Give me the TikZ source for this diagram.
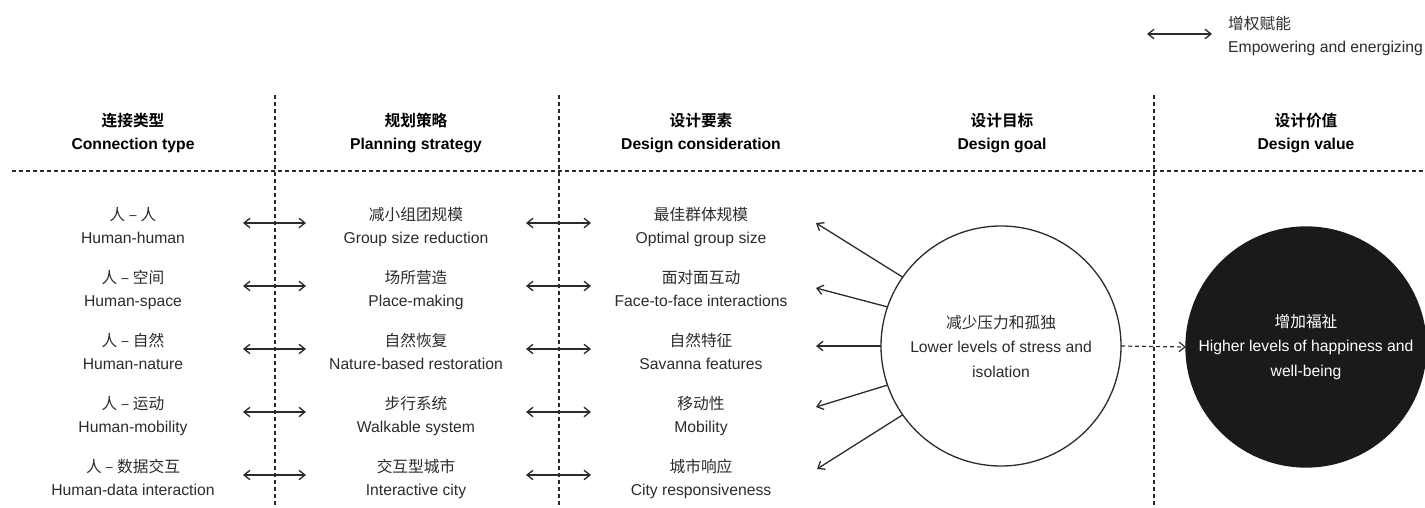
\documentclass[tikz,border=0pt]{standalone}
\usepackage{fontspec}
\setmainfont{Liberation Sans}
\newfontfamily\cjk{Noto Sans CJK SC}[BoldFont={Noto Sans CJK SC Bold}]
\usetikzlibrary{arrows.meta}

\definecolor{ink}{HTML}{2B2B2B}
\definecolor{disc}{HTML}{1A1A1A}

% two stacked lines: Chinese on top, English below
\newcommand\pairtext[2]{\strut{\cjk #1}\\\strut #2}

\tikzset{
  txt/.style={font=\fontsize{15.7}{23}\selectfont},
  cell/.style={txt, minimum width=220pt, inner xsep=0pt, inner ysep=0pt,
               outer sep=0pt, align=center, text=ink},
  head/.style={cell, font=\fontsize{15.7}{23}\selectfont\bfseries, text=black},
  barb/.style={Straight Barb[length=6pt,width=9.5pt]},
  tip/.style={-{Straight Barb[length=6pt,width=9.5pt]}},
  biarrow/.style={{Straight Barb[length=6pt,width=9.5pt]}-{Straight Barb[length=6pt,width=9.5pt]},
                  line width=1.3pt, draw=ink},
  arr/.style={tip, line width=1.3pt, draw=ink},
  dasharrow/.style={tip, line width=1.2pt, draw=ink, dash pattern=on 4pt off 3pt},
  gridline/.style={line width=1.1pt, draw=ink, dash pattern=on 4pt off 3pt},
  goal/.style={circle, draw=ink, line width=1.3pt, minimum size=240pt, inner sep=0pt,
               outer sep=0pt, align=center, text=ink, font=\fontsize{15.7}{24.5}\selectfont},
  value/.style={goal, fill=disc, draw=disc, text=white}
}

\begin{document}
\begin{tikzpicture}[x=1pt,y=-1pt]
\useasboundingbox (0,0) rectangle (1425,508);

% column separators and header rule
\coordinate (v1t) at (275,95);  \coordinate (v1b) at (275,508);
\coordinate (v2t) at (559,95);  \coordinate (v2b) at (559,508);
\coordinate (v3t) at (1154,95); \coordinate (v3b) at (1154,508);
\coordinate (hl) at (12,171);   \coordinate (hr) at (1425,171);
\draw[gridline] (v1t) -- (v1b);
\draw[gridline] (v2t) -- (v2b);
\draw[gridline] (v3t) -- (v3b);
\draw[gridline] (hl) -- (hr);

% legend
\coordinate (la) at (1147,34);
\coordinate (lb) at (1212,34);
\draw[biarrow] (la) -- (lb);
\node[txt, anchor=west, align=left, inner sep=0pt, text=ink] (leg) at (1228,36)
  {\pairtext{增权赋能}{Empowering and energizing}};

% column headings
\node[head] (h1) at (133,133)  {\pairtext{连接类型}{Connection type}};
\node[head] (h2) at (416,133)  {\pairtext{规划策略}{Planning strategy}};
\node[head] (h3) at (701,133)  {\pairtext{设计要素}{Design consideration}};
\node[head] (h4) at (1002,133) {\pairtext{设计目标}{Design goal}};
\node[head] (h5) at (1306,133) {\pairtext{设计价值}{Design value}};

% rows: connection type, planning strategy, design consideration
\foreach \i/\ca/\ea/\cb/\eb/\cc/\ec in {
  1/人 – 人/Human-human/减小组团规模/Group size reduction/最佳群体规模/Optimal group size,
  2/人 – 空间/Human-space/场所营造/Place-making/面对面互动/Face-to-face interactions,
  3/人 – 自然/Human-nature/自然恢复/Nature-based restoration/自然特征/Savanna features,
  4/人 – 运动/Human-mobility/步行系统/Walkable system/移动性/Mobility,
  5/人 – 数据交互/Human-data interaction/交互型城市/Interactive city/城市响应/City responsiveness}
{
  \pgfmathsetmacro\yy{227.7+63*(\i-1)}
  \node[cell] (a\i) at (133,\yy) {\pairtext{\ca}{\ea}};
  \node[cell] (b\i) at (416,\yy) {\pairtext{\cb}{\eb}};
  \node[cell] (c\i) at (701,\yy) {\pairtext{\cc}{\ec}};
  \draw[biarrow] ([yshift=4.7pt]a\i.east) -- ([yshift=4.7pt]b\i.west);
  \draw[biarrow] ([yshift=4.7pt]b\i.east) -- ([yshift=4.7pt]c\i.west);
}

% design goal and design value
\node[goal] (g) at (1001,346)
  {{\cjk 减少压力和孤独}\\Lower levels of stress and\\isolation};
\node[value] (v) at (1306,347)
  {{\cjk 增加福祉}\\Higher levels of happiness and\\well-being};
\draw[dasharrow] (g.east) -- (v.west);

% goal radiating back to the design considerations
\coordinate (t1) at (816,223);
\coordinate (t2) at (816,288);
\coordinate (t3) at (816,346);
\coordinate (t4) at (816,407);
\coordinate (t5) at (817,469);
\draw[arr] (g.145.5) -- (t1);
\draw[arr] (g.161.6) -- (t2);
\draw[arr] (g.180)   -- (t3);
\draw[arr] (g.199.9) -- (t4);
\draw[arr] (g.215.9) -- (t5);
\end{tikzpicture}
\end{document}
